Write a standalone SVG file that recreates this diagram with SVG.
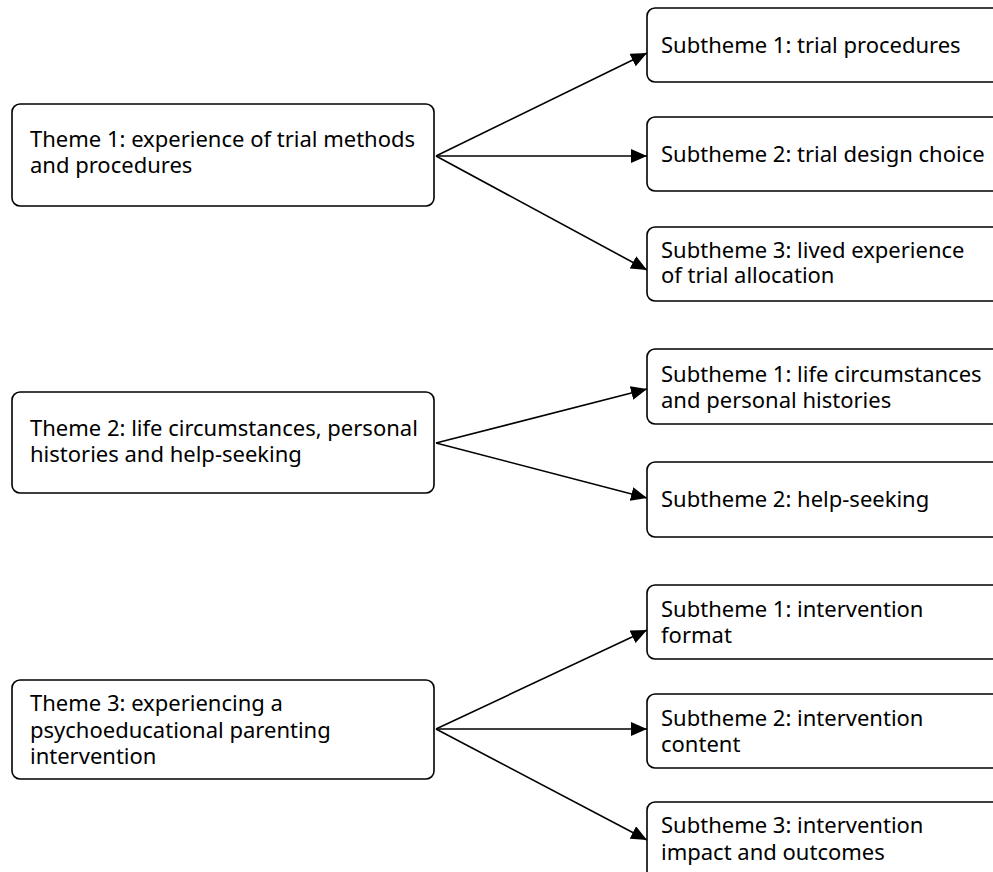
<svg xmlns="http://www.w3.org/2000/svg" width="993" height="872" viewBox="0 0 993 872">
<defs>
<marker id="ah" viewBox="0 0 16 14" refX="16" refY="7" markerWidth="16" markerHeight="14" markerUnits="userSpaceOnUse" orient="auto">
<path d="M0,0 L16,7 L0,14 Z" fill="#000"/>
</marker>
</defs>
<style>
.box{fill:#fff;stroke:#000;stroke-width:1.6}
.t{font-family:"Noto Sans","Liberation Sans",sans-serif;font-size:22px;fill:#000}
.c{stroke:#000;stroke-width:1.6;fill:none;marker-end:url(#ah)}
</style>
<rect width="993" height="872" fill="#fff"/>
<g id="connectors">
<line class="c" x1="436" y1="156" x2="647" y2="53"/>
<line class="c" x1="436" y1="156" x2="647" y2="156"/>
<line class="c" x1="436" y1="156" x2="647" y2="270"/>
<line class="c" x1="436" y1="443" x2="647" y2="389"/>
<line class="c" x1="436" y1="443" x2="647" y2="498"/>
<line class="c" x1="436" y1="729" x2="647" y2="630"/>
<line class="c" x1="436" y1="729" x2="647" y2="729"/>
<line class="c" x1="436" y1="729" x2="647" y2="840"/>
</g>
<g id="theme1">
<rect class="box" x="12" y="104" width="422" height="102" rx="8"/>
<text class="t" x="30" y="147">Theme 1: experience of trial methods</text>
<text class="t" x="30" y="172.5">and procedures</text>
</g>
<g id="theme2">
<rect class="box" x="12" y="392" width="422" height="101" rx="8"/>
<text class="t" x="30" y="436">Theme 2: life circumstances, personal</text>
<text class="t" x="30" y="462">histories and help-seeking</text>
</g>
<g id="theme3">
<rect class="box" x="12" y="680" width="422" height="99" rx="8"/>
<text class="t" x="30" y="711">Theme 3: experiencing a</text>
<text class="t" x="30" y="737.5">psychoeducational parenting</text>
<text class="t" x="30" y="764">intervention</text>
</g>
<g id="sub1a">
<rect class="box" x="647" y="8" width="360" height="74" rx="8"/>
<text class="t" x="661" y="53">Subtheme 1: trial procedures</text>
</g>
<g id="sub1b">
<rect class="box" x="647" y="117" width="360" height="74" rx="8"/>
<text class="t" x="661" y="162">Subtheme 2: trial design choice</text>
</g>
<g id="sub1c">
<rect class="box" x="647" y="227" width="360" height="74" rx="8"/>
<text class="t" x="661" y="257.5">Subtheme 3: lived experience</text>
<text class="t" x="661" y="283">of trial allocation</text>
</g>
<g id="sub2a">
<rect class="box" x="647" y="349" width="360" height="75" rx="8"/>
<text class="t" x="661" y="382">Subtheme 1: life circumstances</text>
<text class="t" x="661" y="407.5">and personal histories</text>
</g>
<g id="sub2b">
<rect class="box" x="647" y="462" width="360" height="75" rx="8"/>
<text class="t" x="661" y="507">Subtheme 2: help-seeking</text>
</g>
<g id="sub3a">
<rect class="box" x="647" y="585" width="360" height="74" rx="8"/>
<text class="t" x="661" y="617">Subtheme 1: intervention</text>
<text class="t" x="661" y="643">format</text>
</g>
<g id="sub3b">
<rect class="box" x="647" y="694" width="360" height="74" rx="8"/>
<text class="t" x="661" y="726">Subtheme 2: intervention</text>
<text class="t" x="661" y="752">content</text>
</g>
<g id="sub3c">
<rect class="box" x="647" y="802" width="360" height="80" rx="8"/>
<text class="t" x="661" y="833">Subtheme 3: intervention</text>
<text class="t" x="661" y="860">impact and outcomes</text>
</g>
</svg>
